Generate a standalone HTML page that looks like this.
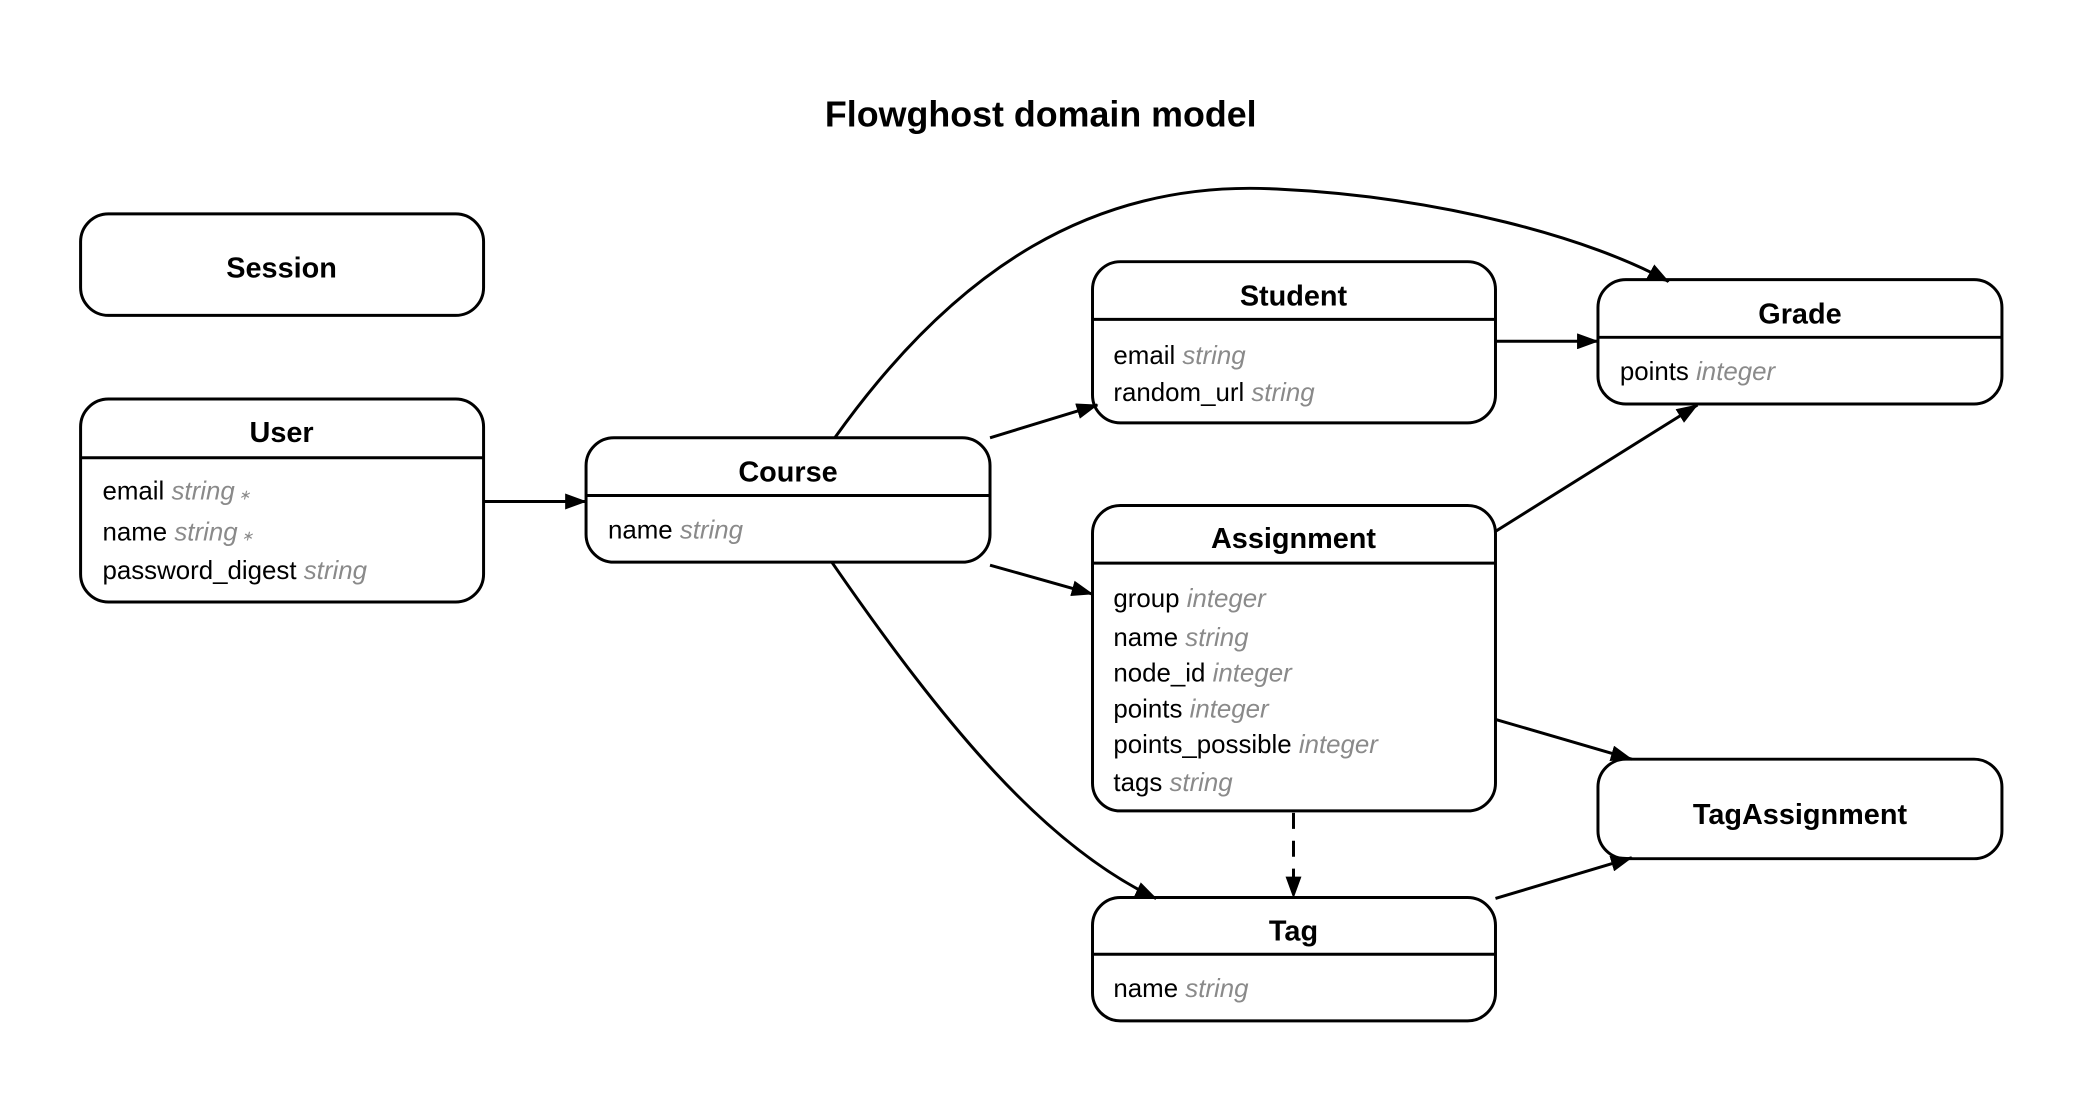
<!DOCTYPE html>
<html><head><style>
html,body{margin:0;padding:0;background:#fff;}
svg{display:block;}
text{font-family:"Liberation Sans",Arial,sans-serif;}
.t{font-weight:bold;font-size:29px;text-anchor:middle;}
.a{font-size:26px;fill:#000;}
.g{fill:#8a8a8a;font-style:italic;}
.box{fill:#fff;stroke:#000;stroke-width:3;}
.e{fill:none;stroke:#000;stroke-width:3;}
</style></head><body>
<svg width="2084" height="1103" viewBox="0 0 2084 1103" xmlns="http://www.w3.org/2000/svg">
<defs>
<marker id="ar" viewBox="0 0 22 16" refX="21" refY="8" markerWidth="22" markerHeight="16" markerUnits="userSpaceOnUse" orient="auto">
<path d="M0,0 L22,8 L0,16 z" fill="#000"/>
</marker>
</defs>
<g transform="scale(0.995)">
<text x="1046" y="127" style="font-weight:bold;font-size:36px" text-anchor="middle">Flowghost domain model</text>

<!-- Session -->
<rect class="box" x="81" y="215" width="405" height="102" rx="28"/>
<text class="t" x="283" y="279">Session</text>

<!-- User -->
<rect class="box" x="81" y="401" width="405" height="204" rx="28"/>
<line class="e" x1="81" y1="460" x2="486" y2="460"/>
<text class="t" x="283" y="444">User</text>
<text class="a" x="103" y="502">email <tspan class="g">string</tspan><tspan class="g" font-size="14"> ∗</tspan></text>
<text class="a" x="103" y="543">name <tspan class="g">string</tspan><tspan class="g" font-size="14"> ∗</tspan></text>
<text class="a" x="103" y="582">password_digest <tspan class="g">string</tspan></text>

<!-- Course -->
<rect class="box" x="589" y="440" width="406" height="125" rx="28"/>
<line class="e" x1="589" y1="498" x2="995" y2="498"/>
<text class="t" x="792" y="484">Course</text>
<text class="a" x="611" y="541">name <tspan class="g">string</tspan></text>

<!-- Student -->
<rect class="box" x="1098" y="263" width="405" height="162" rx="28"/>
<line class="e" x1="1098" y1="321" x2="1503" y2="321"/>
<text class="t" x="1300" y="307">Student</text>
<text class="a" x="1119" y="366">email <tspan class="g">string</tspan></text>
<text class="a" x="1119" y="403">random_url <tspan class="g">string</tspan></text>

<!-- Grade -->
<rect class="box" x="1606" y="281" width="406" height="125" rx="28"/>
<line class="e" x1="1606" y1="339" x2="2012" y2="339"/>
<text class="t" x="1809" y="325">Grade</text>
<text class="a" x="1628" y="382">points <tspan class="g">integer</tspan></text>

<!-- Assignment -->
<rect class="box" x="1098" y="508" width="405" height="307" rx="28"/>
<line class="e" x1="1098" y1="566" x2="1503" y2="566"/>
<text class="t" x="1300" y="551">Assignment</text>
<text class="a" x="1119" y="610">group <tspan class="g">integer</tspan></text>
<text class="a" x="1119" y="649">name <tspan class="g">string</tspan></text>
<text class="a" x="1119" y="685">node_id <tspan class="g">integer</tspan></text>
<text class="a" x="1119" y="721">points <tspan class="g">integer</tspan></text>
<text class="a" x="1119" y="757">points_possible <tspan class="g">integer</tspan></text>
<text class="a" x="1119" y="795">tags <tspan class="g">string</tspan></text>

<!-- TagAssignment -->
<rect class="box" x="1606" y="763" width="406" height="100" rx="28"/>
<text class="t" x="1809" y="828">TagAssignment</text>

<!-- Tag -->
<rect class="box" x="1098" y="902" width="405" height="124" rx="28"/>
<line class="e" x1="1098" y1="959" x2="1503" y2="959"/>
<text class="t" x="1300" y="945">Tag</text>
<text class="a" x="1119" y="1002">name <tspan class="g">string</tspan></text>

<!-- edges -->
<g class="e">
<path d="M486,504 L589,504" marker-end="url(#ar)"/>
<path d="M995,440 L1103,407" marker-end="url(#ar)"/>
<path d="M995,568 L1098,597" marker-end="url(#ar)"/>
<path d="M839,440 C960,270 1100,180 1283,190 C1450,198 1600,240 1677,283" marker-end="url(#ar)"/>
<path d="M1503,343 L1606,343" marker-end="url(#ar)"/>
<path d="M1503,534 L1706,407" marker-end="url(#ar)"/>
<path d="M1503,723 L1640,763" marker-end="url(#ar)"/>
<path d="M1503,903 L1640,862" marker-end="url(#ar)"/>
<path d="M836,565 C950,730 1050,850 1162,903" marker-end="url(#ar)"/>
<path d="M1300,817 L1300,902" stroke-dasharray="16,12" marker-end="url(#ar)"/>
</g>
</g>
</svg>
</body></html>
